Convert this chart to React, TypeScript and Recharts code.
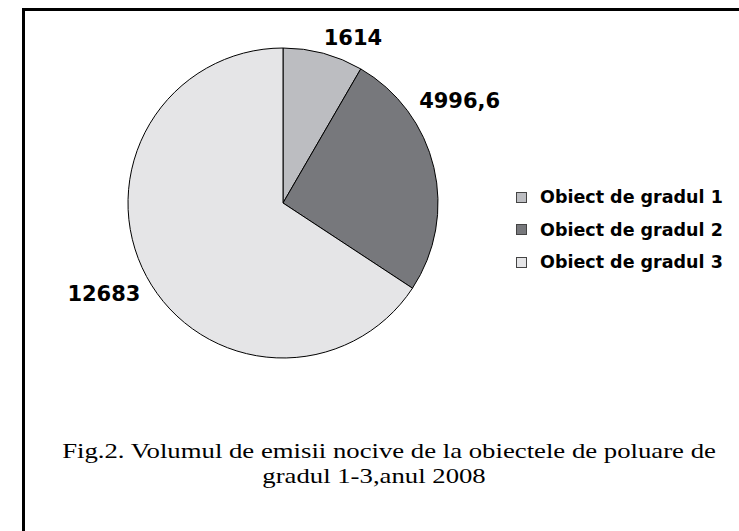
import React from 'react';
import { PieChart, Pie, Cell } from 'recharts';

const NAMES = ['Obiect de gradul 1', 'Obiect de gradul 2', 'Obiect de gradul 3'];
const VALUES = [1614, 4996.6, 12683];
const VALUE_LABELS = ['1614', '4996,6', '12683'];
const COLORS = ['#bcbdc1', '#77787c', '#e5e5e7'];
// label placement around the pie: [angle from top clockwise (deg), distance from centre]
const LABEL_POS = [[23, 179], [60, 204], [243, 201]];
const TITLE_LINES = ['Fig.2. Volumul de emisii nocive de la obiectele de poluare de', 'gradul 1-3,anul 2008'];
const TITLE_CENTERS = [389, 374];

const data = NAMES.map((name, i) => ({ name, value: VALUES[i] }));

const renderLabel = (props: any) => {
    const { cx, cy, index } = props;
    const [deg, dist] = LABEL_POS[index];
    const a = (deg * Math.PI) / 180;
    const x = cx + dist * Math.sin(a);
    const y = cy - dist * Math.cos(a);
    return (
        <text x={x} y={y} textAnchor="middle" dominantBaseline="central"
            fontFamily="'DejaVu Sans', sans-serif" fontWeight="bold" fontSize={21} fill="#000">
            {VALUE_LABELS[index]}
        </text>
    );
};

export default function App() {
    return (
        <div style={{ position: 'fixed', left: 0, top: 0, width: 739, height: 531, overflow: 'hidden', background: '#fff' }}>
            <div style={{ position: 'absolute', left: 22, top: 8, width: 800, height: 600, border: '3px solid #000', boxSizing: 'border-box' }} />
            <div style={{ position: 'absolute', left: 0, top: 0 }}>
                <PieChart width={739} height={420} margin={{ top: 0, right: 0, bottom: 0, left: 0 }}>
                    <Pie data={data} dataKey="value" nameKey="name" cx={283} cy={203} outerRadius={155}
                        startAngle={90} endAngle={-270} stroke="#000" strokeWidth={1}
                        label={renderLabel} labelLine={false} isAnimationActive={false}>
                        {data.map((entry, i) => <Cell key={entry.name} fill={COLORS[i]} />)}
                    </Pie>
                </PieChart>
            </div>

            {/* legend */}
            <div style={{ position: 'absolute', left: 516, top: 181, fontFamily: "'DejaVu Sans', sans-serif", fontWeight: 'bold', fontSize: 17.5, color: '#000' }}>
                {NAMES.map((name, i) => (
                    <div key={name} style={{ display: 'flex', alignItems: 'center', height: 32.5 }}>
                        <span style={{ width: 9, height: 9, background: COLORS[i], border: '1px solid #444', marginRight: 13 }} />
                        <span>{name}</span>
                    </div>
                ))}
            </div>

            {/* caption */}
            {TITLE_LINES.map((line, i) => (
                <div key={line} style={{ position: 'absolute', left: TITLE_CENTERS[i] - 400, top: 438 + i * 25, width: 800, textAlign: 'center',
                    fontFamily: "'Liberation Serif', 'Times New Roman', serif", fontSize: 22, lineHeight: '25px', color: '#000',
                    transform: 'scaleX(1.215)', transformOrigin: 'center' }}>
                    {line}
                </div>
            ))}
        </div>
    );
}
